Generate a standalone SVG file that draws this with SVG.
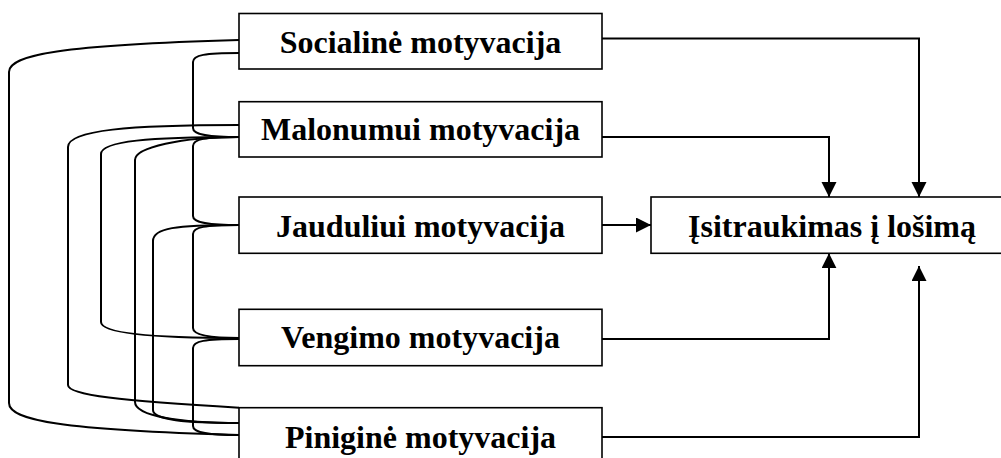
<svg xmlns="http://www.w3.org/2000/svg" width="1001" height="458" viewBox="0 0 1001 458">
<style>
.box{fill:#fff;stroke:#000;stroke-width:1.6}
.lbl{font-family:"Liberation Serif","Times New Roman",serif;font-weight:bold;font-size:32px;fill:#000;text-anchor:middle}
.c{fill:none;stroke:#000;stroke-width:2}
.a{fill:none;stroke:#000;stroke-width:2;marker-end:url(#arr)}
</style>
<defs>
<marker id="arr" markerWidth="16" markerHeight="16" refX="15" refY="7.5" orient="auto" markerUnits="userSpaceOnUse">
<path d="M0,0 L15,7.5 L0,15 z" fill="#000"/>
</marker>
</defs>
<rect width="1001" height="458" fill="#fff"/>
<g id="socialine">
<rect class="box" x="239" y="13.5" width="363" height="55.5"/>
<text class="lbl" x="420.5" y="53">Socialinė motyvacija</text>
</g>
<g id="malonumui">
<rect class="box" x="239" y="101.7" width="363" height="55.3"/>
<text class="lbl" x="420.5" y="140">Malonumui motyvacija</text>
</g>
<g id="jauduliui">
<rect class="box" x="239" y="197" width="363" height="56.3"/>
<text class="lbl" x="420.5" y="236.7">Jauduliui motyvacija</text>
</g>
<g id="vengimo">
<rect class="box" x="239" y="309.3" width="363" height="56.4"/>
<text class="lbl" x="420.5" y="348">Vengimo motyvacija</text>
</g>
<g id="pinigine">
<rect class="box" x="239" y="407.7" width="363" height="56.3"/>
<text class="lbl" x="420.5" y="447.7">Piniginė motyvacija</text>
</g>
<g id="isitraukimas">
<rect class="box" x="651" y="197" width="362" height="56.3"/>
<text class="lbl" x="832" y="236.7">Įsitraukimas į lošimą</text>
</g>
<g id="connectors">
<path class="a" d="M602,38.5 H919 V197"/>
<path class="a" d="M602,137 H829 V197"/>
<path class="a" d="M602,225 H651"/>
<path class="a" d="M602,339 H829 V253.3"/>
<path class="a" d="M602,437 H919 V266"/>
<path class="c" d="M239,40 C60,45 9,55 9,72 L9,403 C9,420 60,430 239,435"/>
<path class="c" d="M239,53 C205,53 193,55 193,62 L193,128 C193,134 205,137 239,137"/>
<path class="c" d="M239,125 C130,125 68,130 68,147 L68,385 C68,395 120,401 239,407.7"/>
<path class="c" d="M239,137 C150,137 101,141 101,154 L101,322 C101,334 160,338 239,338"/>
<path class="c" d="M239,137 C181.6,137 135,147.3 135,160 L135,402 C135,416 180,423 239,423"/>
<path class="c" d="M239,137 C205,137 193,139 193,146 L193,216 C193,222 205,225 239,225"/>
<path class="c" d="M239,225 C175,225 153,228 153,241 L153,410 C153,420 185,423 239,423"/>
<path class="c" d="M239,225 C205,225 193,227 193,234 L193,328 C193,334 205,338 239,338"/>
<path class="c" d="M239,339 C205,339 193,341 193,348 L193,426 C193,432 205,435 239,435"/>
</g>
</svg>
